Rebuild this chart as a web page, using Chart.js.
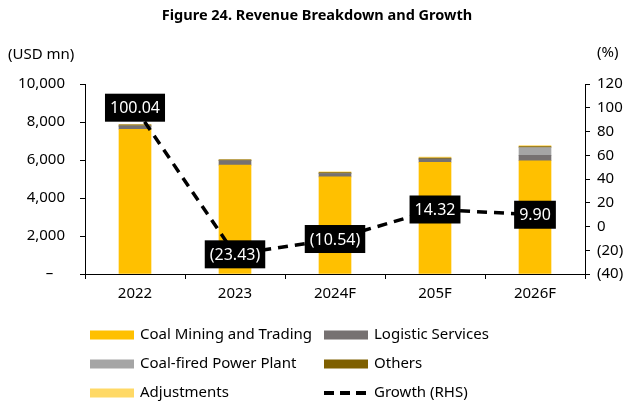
<!DOCTYPE html>
<html>
<head>
<meta charset="utf-8">
<script src="https://cdn.jsdelivr.net/npm/chart.js@4"></script>
<style>
  html, body { margin: 0; padding: 0; background: #fff; }
  #wrap { width: 630px; height: 407px; }
</style>
</head>
<body>
<div id="wrap"><canvas id="revenue-chart" width="630" height="407"></canvas></div>
<script>
// chart values (USD mn and % growth)
var years = ['2022', '2023', '2024F', '205F', '2026F'];
var coalMining = [7620, 5730, 5110, 5880, 5960];
var logistic = [150, 230, 180, 170, 280];
var powerPlant = [30, 0, 0, 0, 420];
var others = [50, 50, 50, 50, 50];
var adjustments = [0, 0, 40, 50, 50];
var growth = [100.04, -23.43, -10.54, 14.32, 9.90];
var leftTicks = [0, 2000, 4000, 6000, 8000, 10000];
var rightTicks = [-40, -20, 0, 20, 40, 60, 80, 100, 120];

var FONT = '"Noto Sans", sans-serif';

function fmtPct(v) {
    var s = Math.abs(v).toFixed(2);
    return v < 0 ? '(' + s + ')' : s;
}

// draws the black value boxes on the growth line, the unit labels and the legend
var extrasPlugin = {
    id: 'extras',
    afterDatasetsDraw: function(chart) {
        var ctx = chart.ctx;
        var meta = chart.getDatasetMeta(5);
        ctx.save();
        ctx.font = '16px ' + FONT;
        ctx.textAlign = 'center';
        ctx.textBaseline = 'middle';
        meta.data.forEach(function(pt, i) {
            var txt = fmtPct(growth[i]);
            var w = ctx.measureText(txt).width + 10;
            var h = 28;
            ctx.fillStyle = '#000';
            ctx.fillRect(pt.x - w / 2, pt.y - h / 2, w, h);
            ctx.fillStyle = '#fff';
            ctx.fillText(txt, pt.x, pt.y + 1);
        });
        ctx.restore();
    },
    afterDraw: function(chart) {
        var ctx = chart.ctx;
        ctx.save();
        ctx.fillStyle = '#000';
        ctx.textBaseline = 'middle';
        ctx.font = 'bold 14.5px ' + FONT;
        ctx.textAlign = 'center';
        ctx.fillText('Figure 24. Revenue Breakdown and Growth', 317, 16);
        ctx.font = '15px ' + FONT;
        ctx.textAlign = 'left';
        ctx.fillText('(USD mn)', 8, 55);
        ctx.fillText('(%)', 597, 53);

        // legend, two columns
        var items = chart.data.datasets;
        var cols = [90, 324];
        var rows = [335, 364, 393];
        items.forEach(function(ds, k) {
            var x = cols[k % 2];
            var y = rows[Math.floor(k / 2)];
            if (ds.type === 'line') {
                ctx.strokeStyle = '#000';
                ctx.lineWidth = 4;
                ctx.setLineDash([10, 6]);
                ctx.beginPath();
                ctx.moveTo(x, y);
                ctx.lineTo(x + 44, y);
                ctx.stroke();
                ctx.setLineDash([]);
            } else {
                ctx.fillStyle = ds.backgroundColor;
                ctx.fillRect(x, y - 4.5, 44, 9);
            }
            ctx.fillStyle = '#000';
            ctx.fillText(ds.label, x + 50, y);
        });
        ctx.restore();
    }
};

var ctx = document.getElementById('revenue-chart').getContext('2d');
var chart = new Chart(ctx, {
    data: {
        labels: years,
        datasets: [
            { type: 'bar', label: 'Coal Mining and Trading', data: coalMining, backgroundColor: '#FFC000', order: 1 },
            { type: 'bar', label: 'Logistic Services', data: logistic, backgroundColor: '#767171', order: 1 },
            { type: 'bar', label: 'Coal-fired Power Plant', data: powerPlant, backgroundColor: '#A5A5A5', order: 1 },
            { type: 'bar', label: 'Others', data: others, backgroundColor: '#7F6000', order: 1 },
            { type: 'bar', label: 'Adjustments', data: adjustments, backgroundColor: '#FFD966', order: 1 },
            {
                type: 'line', label: 'Growth (RHS)', data: growth, yAxisID: 'y1',
                borderColor: '#000', borderWidth: 3.5, borderDash: [10, 7],
                pointRadius: 0, fill: false, tension: 0, order: 0
            }
        ]
    },
    options: {
        responsive: false,
        animation: false,
        layout: { padding: { top: 84, left: 0, right: 0, bottom: 0 } },
        plugins: {
            legend: { display: false },
            title: { display: false },
            tooltip: { enabled: false }
        },
        datasets: {
            bar: { barThickness: 32 }
        },
        scales: {
            x: {
                stacked: true,
                offset: true,
                grid: { display: true, drawOnChartArea: false, offset: true, color: '#000', tickLength: 5 },
                border: { display: true, color: '#000', width: 1 },
                ticks: { color: '#000', font: { family: FONT, size: 15 }, padding: 6 },
                afterFit: function(scale) { scale.height = 133; }
            },
            y: {
                stacked: true,
                position: 'left',
                min: 0,
                max: 10000,
                afterBuildTicks: function(scale) {
                    scale.ticks = leftTicks.map(function(v) { return { value: v }; });
                },
                grid: { display: true, drawOnChartArea: false, color: '#000', tickLength: 5 },
                border: { display: true, color: '#000', width: 1 },
                ticks: {
                    color: '#000', font: { family: FONT, size: 15 }, padding: 15,
                    callback: function(v) { return v === 0 ? '–   ' : v.toLocaleString('en-US'); }
                },
                afterFit: function(scale) { scale.width = 85; }
            },
            y1: {
                position: 'right',
                min: -40,
                max: 120,
                afterBuildTicks: function(scale) {
                    scale.ticks = rightTicks.map(function(v) { return { value: v }; });
                },
                grid: { display: true, drawOnChartArea: false, color: '#000', tickLength: 5 },
                border: { display: true, color: '#000', width: 1 },
                ticks: {
                    color: '#000', font: { family: FONT, size: 15 }, padding: 7,
                    callback: function(v) { return v < 0 ? '(' + Math.abs(v) + ')' : String(v); }
                },
                afterFit: function(scale) { scale.width = 45; }
            }
        }
    },
    plugins: [extrasPlugin]
});
</script>
</body>
</html>
